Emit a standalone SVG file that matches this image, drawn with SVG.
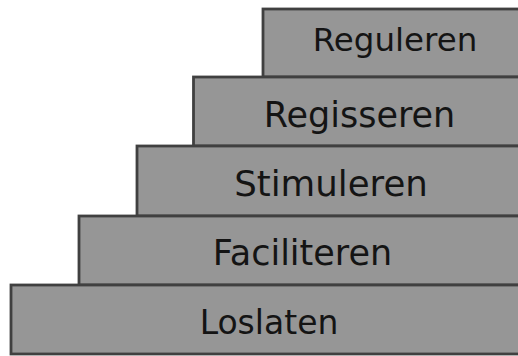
<svg xmlns="http://www.w3.org/2000/svg" width="518" height="356" viewBox="0 0 518 356">
<style>
.step{fill:#969696;stroke:#404040;stroke-width:2.8}
.lbl{font-family:"DejaVu Sans","Verdana",sans-serif;font-size:35px;fill:#141414;text-anchor:middle}
</style>
<rect width="518" height="356" fill="#fff"/>
<g id="reguleren"><rect class="step" x="263" y="9" width="270" height="68"/><text class="lbl" x="395" y="50.5" style="font-size:32.5px">Reguleren</text></g>
<g id="regisseren"><rect class="step" x="193.5" y="77" width="340" height="69"/><text class="lbl" x="359.5" y="127">Regisseren</text></g>
<g id="stimuleren"><rect class="step" x="137" y="146" width="400" height="70"/><text class="lbl" x="331" y="196" style="font-size:35.6px">Stimuleren</text></g>
<g id="faciliteren"><rect class="step" x="79" y="216" width="460" height="69"/><text class="lbl" x="302.5" y="265">Faciliteren</text></g>
<g id="loslaten"><rect class="step" x="11" y="285" width="530" height="69"/><text class="lbl" x="269" y="334" style="font-size:33px">Loslaten</text></g>
</svg>
